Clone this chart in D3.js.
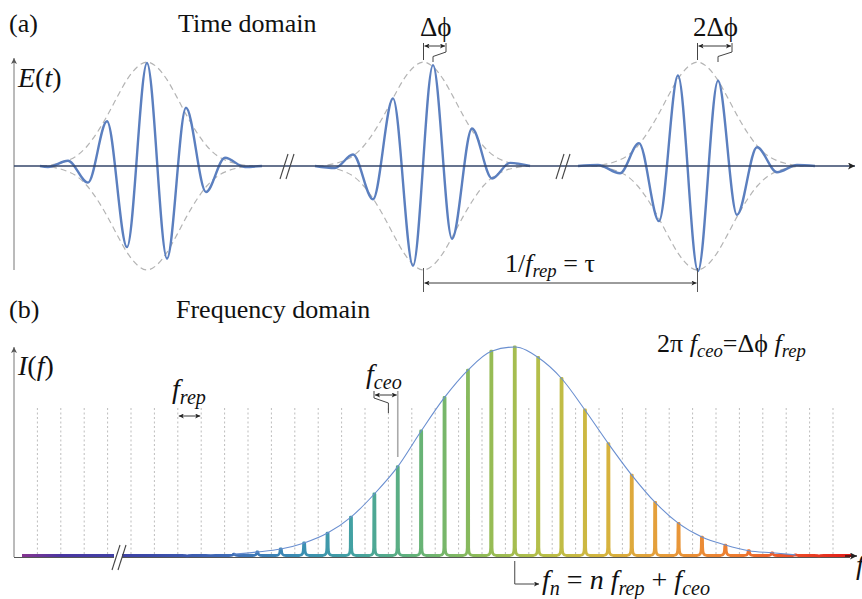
<!DOCTYPE html>
<html>
<head>
<meta charset="utf-8">
<script src="https://cdn.jsdelivr.net/npm/d3@7"></script>
<style>
  body { margin: 0; background: #fff; }
  svg text { white-space: pre; fill: #111; font-family: 'Liberation Serif'; }
</style>
</head>
<body>
<div id="chart"></div>
<script>
// ---- time domain: extrema of each pulse, [t, E]
const pulseCenters = [13.3, 40.95, 68.35];
const pulse1 = [[2.6,0],[3.4,-0.01],[5.4,0.05],[7.4,-0.16],[9.3,0.43],[11.3,-0.78],[13.3,0.99],
  [15.3,-0.89],[17.2,0.56],[19.2,-0.25],[21.1,0.08],[23.1,-0.01],[24.8,0]];
const pulse2 = [[30.1,0],[32.1,-0.02],[33.9,0.11],[35.9,-0.32],[37.9,0.65],[39.9,-0.96],[41.9,0.97],
  [43.8,-0.70],[45.8,0.36],[47.8,-0.12],[49.6,0.03],[51.6,0]];
const pulse3 = [[56.4,0],[58.4,0.01],[60.6,-0.07],[62.5,0.22],[64.5,-0.53],[66.4,0.87],[68.4,-1.01],
  [70.4,0.82],[72.3,-0.47],[74.3,0.18],[76.3,-0.06],[78.3,0.01],[80.1,0]];
const pulses = [pulse1, pulse2, pulse3];
// envelope (dashed) half-amplitude vs offset from pulse center
const envOffsets = [-10.6,-9,-8,-7,-6,-5,-4,-3,-2,-1,0,1,2,3,4,5,6,7,8,9,10.6];
const envAmp     = [0,0.02,0.05,0.10,0.19,0.32,0.48,0.66,0.83,0.95,1,0.95,0.83,0.66,0.48,0.32,0.19,0.10,0.05,0.02,0];
const peakT = [41.9, 70.4];      // carrier peaks used by the Δϕ / 2Δϕ brackets

// ---- frequency domain: comb teeth n and intensity
const teethN = [6,7,8,9,10,11,12,13,14,15,16,17,18,19,20,21,22,23,24,25,26,27,28,29,30,31,32,33];
const teethI = [0.005,0.007,0.014,0.024,0.038,0.067,0.114,0.19,0.30,0.43,0.60,0.76,0.89,0.98,1.0,
  0.95,0.85,0.70,0.54,0.39,0.26,0.16,0.095,0.057,0.03,0.02,0.01,0.005];
const fceo = 0.4;
const gridN = d3.range(0, 35);

const W = 862, H = 599;
const svg = d3.select("#chart").append("svg").attr("width", W).attr("height", H);

const tx = d3.scaleLinear().domain([0, 84.2]).range([14, 856]);
const ey = d3.scaleLinear().domain([-1, 1]).range([270, 62]);
const fx = d3.scaleLinear().domain([-1, 35]).range([14, 856.4]);
const iy = d3.scaleLinear().domain([0, 1]).range([557, 347]);

const defs = svg.append("defs");
function marker(id, w, h, col) {
  defs.append("marker").attr("id", id).attr("viewBox", "0 0 10 10")
    .attr("refX", 10).attr("refY", 5).attr("markerWidth", w).attr("markerHeight", h)
    .attr("markerUnits", "userSpaceOnUse").attr("orient", "auto-start-reverse")
    .append("path").attr("d", "M0,0L10,5L0,10L2.5,5z").attr("fill", col);
}
marker("big", 10, 7, "#222");
marker("small", 6, 5, "#222");
marker("grey", 6, 6, "#555");

const grad = defs.append("linearGradient").attr("id", "spec")
  .attr("gradientUnits", "userSpaceOnUse").attr("x1", 20).attr("x2", 855).attr("y1", 0).attr("y2", 0);
[[0,"#8a3590"],[0.05,"#4a36a2"],[0.15,"#3c48a8"],[0.25,"#3f6cb8"],[0.33,"#3a8db4"],[0.40,"#43a2a2"],
 [0.47,"#62b27a"],[0.55,"#8fbb58"],[0.63,"#b9bf48"],[0.70,"#d6b43e"],[0.78,"#e8993a"],[0.86,"#ee7b30"],
 [0.93,"#ee4c28"],[1,"#e01818"]].forEach(s => grad.append("stop").attr("offset", s[0]).attr("stop-color", s[1]));

function rich(x, y, size, parts) {
  const t = svg.append("text").attr("x", x).attr("y", y)
    .style("font-family", "'Liberation Serif'").style("font-size", size + "px");
  let sh = false;
  parts.forEach(([s, k]) => {
    const sp = t.append("tspan").text(s);
    if (k === "i" || k === "s") sp.style("font-style", "italic");
    if (k === "s") {
      sp.style("font-size", (size * 0.72) + "px");
      if (!sh) { sp.attr("dy", size * 0.2); sh = true; }
    } else if (sh) { sp.attr("dy", -size * 0.2); sh = false; }
  });
  return t;
}
function seg(pts, col, w, extra) {
  const p = svg.append("path").attr("d", d3.line()(pts)).attr("fill", "none")
    .attr("stroke", col).attr("stroke-width", w);
  if (extra) extra(p);
  return p;
}
function brk(cx, cy, col) {
  [-3, 3].forEach(dx => seg([[cx + dx - 4, cy + 13], [cx + dx + 4, cy - 12]], col, 1.1));
}

// ================= (a) time domain =================
const y0 = ey(0);
seg([[14, 270], [14, 58]], "#777", 1, p => p.attr("marker-end", "url(#grey)"));

const envLine = d3.line().x(d => tx(d[0])).y(d => ey(d[1])).curve(d3.curveMonotoneX);
pulseCenters.forEach(c => {
  [1, -1].forEach(s => {
    svg.append("path").attr("d", envLine(envOffsets.map((o, i) => [c + o, s * envAmp[i]])))
      .attr("fill", "none").attr("stroke", "#b4b4b4").attr("stroke-width", 1.2)
      .attr("stroke-dasharray", "6,4");
  });
});
pulses.forEach(p => {
  svg.append("path").attr("d", envLine(p)).attr("fill", "none")
    .attr("stroke", "#5b7fbf").attr("stroke-width", 2.4);
});
seg([[14, y0], [855, y0]], "#34466a", 1.6, p => p.attr("marker-end", "url(#big)"));
brk(287, y0, "#444");
brk(563, y0, "#444");

// Δϕ and 2Δϕ brackets
[[pulseCenters[1], peakT[0], 13], [pulseCenters[2], peakT[1], 14]].forEach(([c, pk, off]) => {
  const xl = tx(c), xp = tx(pk), xr = xp + off;
  seg([[xl, 43], [xl, 60]], "#444", 1);
  seg([[xr, 43], [xr, 52], [xp, 56.5], [xp, 62]], "#444", 1);
  seg([[xl + 1, 46], [xr - 1, 46]], "#222", 0.9, p => p.attr("marker-start", "url(#small)").attr("marker-end", "url(#small)"));
});
rich(420, 36, 27, [["Δϕ", "n"]]);
rich(693, 36, 27, [["2Δϕ", "n"]]);

// repetition period
[pulseCenters[1], pulseCenters[2]].forEach(c => seg([[tx(c), 268], [tx(c), 292]], "#555", 1));
seg([[tx(pulseCenters[1]) + 1, 283], [tx(pulseCenters[2]) - 1, 283]], "#222", 0.9,
  p => p.attr("marker-start", "url(#small)").attr("marker-end", "url(#small)"));
rich(505, 272, 26, [["1/", "n"], ["f", "i"], ["rep", "s"], [" = τ", "n"]]);

rich(9, 32, 26, [["(a)", "n"]]);
rich(178, 32, 26, [["Time domain", "n"]]);
rich(18, 87, 28, [["E", "i"], ["(", "n"], ["t", "i"], [")", "n"]]);

// ================= (b) frequency domain =================
const b0 = iy(0);
svg.append("g").selectAll("line").data(gridN).join("line")
  .attr("x1", d => fx(d)).attr("x2", d => fx(d)).attr("y1", 408).attr("y2", b0)
  .attr("stroke", "#bdbdbd").attr("stroke-width", 1).attr("stroke-dasharray", "2,2.5");

seg([[14, b0], [14, 347]], "#777", 1, p => p.attr("marker-end", "url(#grey)"));
seg([[14, b0 + 0.5], [850, b0 + 0.5]], "#555", 1);

// comb drawn as one path along the baseline
const bl = b0 - 1.5;
const comb = d3.path();
comb.moveTo(22, bl);
teethN.forEach((n, i) => {
  const x = fx(n + fceo), top = iy(teethI[i]);
  const foot = Math.min(8, (bl - top) * 0.8);
  comb.lineTo(x - 5, bl);
  comb.bezierCurveTo(x - 1.5, bl, x - 0.8, bl - foot * 0.3, x - 0.7, bl - foot);
  comb.lineTo(x - 0.5, top);
  comb.lineTo(x + 0.5, top);
  comb.lineTo(x + 0.7, bl - foot);
  comb.bezierCurveTo(x + 0.8, bl - foot * 0.3, x + 1.5, bl, x + 5, bl);
});
comb.lineTo(853, bl);
svg.append("path").attr("d", comb.toString()).attr("fill", "none")
  .attr("stroke", "url(#spec)").attr("stroke-width", 2.8).attr("stroke-linejoin", "round");

// spectral envelope through the teeth tops
const envPts = teethN.map((n, i) => [n + fceo, teethI[i]]).filter(d => d[0] > 7.5 && d[0] < 33);
svg.append("path").attr("d", d3.line().x(d => fx(d[0])).y(d => iy(d[1])).curve(d3.curveMonotoneX)(envPts))
  .attr("fill", "none").attr("stroke", "#6a8fd0").attr("stroke-width", 1.1);

svg.append("rect").attr("x", 114).attr("y", b0 - 4).attr("width", 8).attr("height", 8).attr("fill", "#fff");
brk(119, b0, "#444");
seg([[845, b0 - 1], [857, b0 - 1]], "#111", 1.2, p => p.attr("marker-end", "url(#big)"));

// f_rep arrow
seg([[fx(6) + 1, 416], [fx(7) - 1, 416]], "#222", 0.9,
  p => p.attr("marker-start", "url(#small)").attr("marker-end", "url(#small)"));
rich(172, 398, 28, [["f", "i"], ["rep", "s"]]);

// f_ceo bracket
const xc = fx(15 + fceo), xg = fx(15);
seg([[xc, 391], [xc, 457]], "#aaa", 1.6);
seg([[374, 391], [374, 398], [xg, 403], [xg, 413]], "#444", 1);
seg([[375, 395], [xc - 1, 395]], "#222", 0.9,
  p => p.attr("marker-start", "url(#small)").attr("marker-end", "url(#small)"));
rich(366, 383, 28, [["f", "i"], ["ceo", "s"]]);

// f_n pointer
const xn = fx(20 + fceo);
seg([[xn, 561], [xn, 584], [539, 584]], "#444", 1, p => p.attr("marker-end", "url(#small)"));
rich(542, 589, 28, [["f", "i"], ["n", "s"], [" = ", "n"], ["n", "i"], [" ", "n"], ["f", "i"], ["rep", "s"],
  [" + ", "n"], ["f", "i"], ["ceo", "s"]]);

rich(657, 352, 26, [["2π ", "n"], ["f", "i"], ["ceo", "s"], ["=Δϕ ", "n"], ["f", "i"], ["rep", "s"]]);
rich(856, 574, 28, [["f", "i"]]);

rich(9, 318, 26, [["(b)", "n"]]);
rich(176, 318, 26, [["Frequency domain", "n"]]);
rich(18, 375, 28, [["I", "i"], ["(", "n"], ["f", "i"], [")", "n"]]);
</script>
</body>
</html>
